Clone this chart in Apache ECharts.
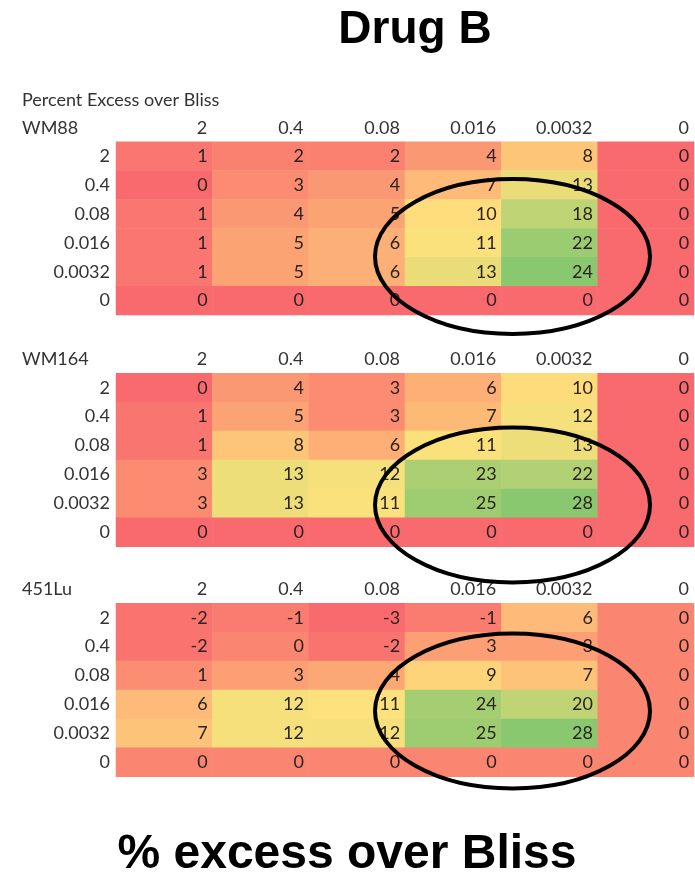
<!DOCTYPE html>
<html>
<head>
<meta charset="utf-8">
<script src="https://cdn.jsdelivr.net/npm/echarts@6/dist/echarts.min.js"></script>
<style>
  html, body { margin: 0; padding: 0; background: #fff; }
  #chart { width: 695px; height: 881px; }
</style>
</head>
<body>
<div id="chart"></div>
<script>
// drug B concentrations (columns) and drug A concentrations (rows)
const drugB = ['2', '0.4', '0.08', '0.016', '0.0032', '0']
const drugA = ['2', '0.4', '0.08', '0.016', '0.0032', '0']
const cellLines = ['WM88', 'WM164', '451Lu']

// percent excess over Bliss, one row per drug A dose
const wm88 = [
  [1, 2, 2, 4, 8, 0],
  [0, 3, 4, 7, 13, 0],
  [1, 4, 5, 10, 18, 0],
  [1, 5, 6, 11, 22, 0],
  [1, 5, 6, 13, 24, 0],
  [0, 0, 0, 0, 0, 0]
]
const wm164 = [
  [0, 4, 3, 6, 10, 0],
  [1, 5, 3, 7, 12, 0],
  [1, 8, 6, 11, 13, 0],
  [3, 13, 12, 23, 22, 0],
  [3, 13, 11, 25, 28, 0],
  [0, 0, 0, 0, 0, 0]
]
const lu451 = [
  [-2, -1, -3, -1, 6, 0],
  [-2, 0, -2, 3, 3, 0],
  [1, 3, 4, 9, 7, 0],
  [6, 12, 11, 24, 20, 0],
  [7, 12, 12, 25, 28, 0],
  [0, 0, 0, 0, 0, 0]
]
const tables = [wm88, wm164, lu451]

// layout
const gridTops = [141.7, 373.3, 603.3]
const gridH = 173.4
const gridLeft = 116
const ellipseCy = [256.5, 505, 711]
const font = 'Lato'
const fontSize = 18
const textColor = '#333'

// red - yellow - green colour scale like excel, yellow sits near 10.5
const RED = [249, 106, 110]
const YEL = [255, 226, 124]
const GRN = [138, 200, 111]
function mix(a, b, t) {
  return 'rgb(' + a.map((c, i) => Math.round(c + (b[i] - c) * t)).join(',') + ')'
}
function scaleColors(min, mid, max) {
  const out = []
  const n = 41
  for (let i = 0; i < n; i++) {
    const v = min + (max - min) * i / (n - 1)
    out.push(v <= mid ? mix(RED, YEL, (v - min) / (mid - min)) : mix(YEL, GRN, (v - mid) / (max - mid)))
  }
  return out
}

const chart = echarts.init(document.getElementById('chart'))

const grid = [], xAxis = [], yAxis = [], series = [], visualMap = []
tables.forEach((tbl, k) => {
  grid.push({ left: gridLeft, right: 1, top: gridTops[k], height: gridH })
  xAxis.push({
    type: 'category', gridIndex: k, position: 'top', data: drugB,
    axisLine: { show: false }, axisTick: { show: false }, splitLine: { show: false },
    axisLabel: {
      interval: 0, margin: 5,
      formatter: v => '{r|' + v + '}',
      rich: { r: { width: 86, align: 'right', fontFamily: font, fontSize: fontSize, color: textColor } }
    }
  })
  yAxis.push({
    type: 'category', gridIndex: k, inverse: true, data: drugA,
    axisLine: { show: false }, axisTick: { show: false }, splitLine: { show: false },
    axisLabel: { interval: 0, margin: 6, fontFamily: font, fontSize: fontSize, color: textColor }
  })
  const data = []
  tbl.forEach((row, r) => row.forEach((v, c) => data.push([c, r, v])))
  const vals = data.map(d => d[2])
  const mn = Math.min(...vals), mx = Math.max(...vals)
  visualMap.push({
    show: false, seriesIndex: k, dimension: 2, min: mn, max: mx,
    inRange: { color: scaleColors(mn, 10.5, mx) }
  })
  series.push({
    name: cellLines[k], type: 'heatmap', xAxisIndex: k, yAxisIndex: k, data: data,
    itemStyle: { borderWidth: 0 },
    label: {
      show: true, position: 'insideRight', distance: 5,
      fontFamily: font, fontSize: fontSize, color: '#2a2320'
    },
    emphasis: { disabled: true }
  })
})

const graphic = [
  { type: 'text', x: 415, y: 30, style: { text: 'Drug B', font: 'bold 46px "Liberation Sans", Arial', fill: '#000', textAlign: 'center', textVerticalAlign: 'middle' } },
  { type: 'text', x: 22, y: 100, style: { text: 'Percent Excess over Bliss', font: fontSize + 'px ' + font, fill: textColor, textVerticalAlign: 'middle' } },
  { type: 'text', x: 347, y: 855, style: { text: '% excess over Bliss', font: 'bold 48px "Liberation Sans", Arial', fill: '#000', textAlign: 'center', textVerticalAlign: 'middle' } }
]
cellLines.forEach((name, k) => {
  graphic.push({ type: 'text', x: 22, y: gridTops[k] - 14, style: { text: name, font: fontSize + 'px ' + font, fill: textColor, textVerticalAlign: 'middle' } })
  graphic.push({
    type: 'ellipse', z: 100,
    shape: { cx: 512.5, cy: ellipseCy[k], rx: 137.5, ry: 77.5 },
    style: { fill: null, stroke: '#000', lineWidth: 4 }
  })
})

chart.setOption({
  animation: false,
  grid, xAxis, yAxis, visualMap, series, graphic
})
</script>
</body>
</html>
